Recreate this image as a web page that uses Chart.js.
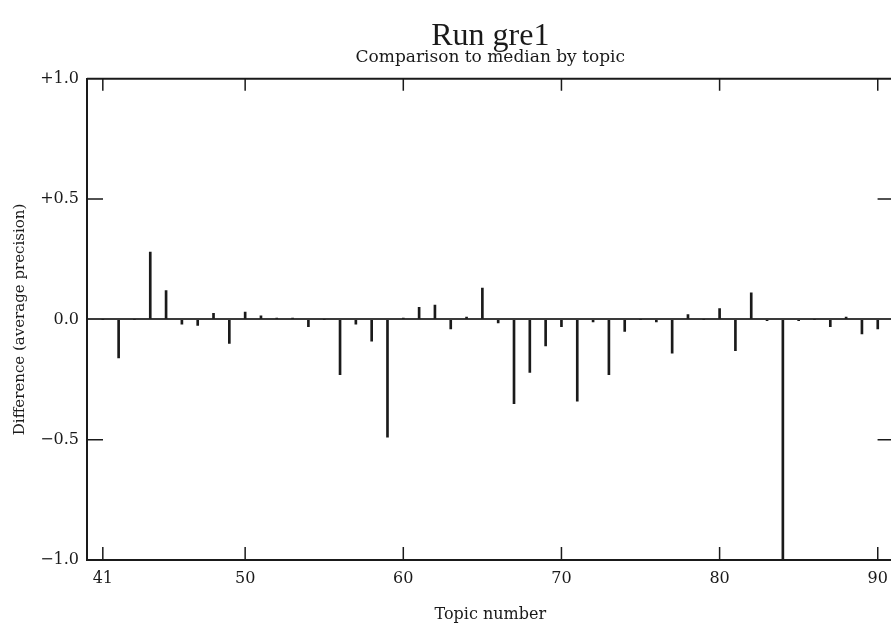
<!DOCTYPE html>
<html lang="en">
<head>
    <meta charset="UTF-8">
    <title>Run gre1</title>
    <script src="https://cdn.jsdelivr.net/npm/chart.js"></script>
    <style>
        body {
            margin: 0;
            background: #fff;
            overflow: hidden;
        }
        #chart {
            display: block;
        }
    </style>
</head>
<body>
    <canvas id="chart" width="897" height="626"></canvas>
    <script>
        // Topic numbers 41..90 and difference from median (average precision)
        const topics = [41, 42, 43, 44, 45, 46, 47, 48, 49, 50,
                        51, 52, 53, 54, 55, 56, 57, 58, 59, 60,
                        61, 62, 63, 64, 65, 66, 67, 68, 69, 70,
                        71, 72, 73, 74, 75, 76, 77, 78, 79, 80,
                        81, 82, 83, 84, 85, 86, 87, 88, 89, 90];
        const differences = [0, -0.16, 0, 0.28, 0.12, -0.02, -0.025, 0.025, -0.10, 0.03,
                             0.015, 0.005, 0.005, -0.03, 0, -0.23, -0.02, -0.09, -0.49, 0.005,
                             0.05, 0.06, -0.04, 0.01, 0.13, -0.015, -0.35, -0.22, -0.11, -0.03,
                             -0.34, -0.01, -0.23, -0.05, 0, -0.01, -0.14, 0.02, 0, 0.045,
                             -0.13, 0.11, -0.005, -1.0, -0.005, 0, -0.03, 0.01, -0.06, -0.04];
        const xTicks = [41, 50, 60, 70, 80, 90];
        const yTicks = [-1, -0.5, 0, 0.5, 1];
        const yTickLabels = ['\u22121.0', '\u22120.5', '0.0', '+0.5', '+1.0'];

        const ink = '#1a1a1a';
        const times = "'Liberation Serif', serif";
        const wide = "'DejaVu Serif', serif";

        // frame on top + little inward tick marks, like the printed plot
        const framePlugin = {
            id: 'frame',
            afterDraw(chart) {
                const { ctx, chartArea: a, scales } = chart;
                ctx.save();
                ctx.strokeStyle = ink;
                ctx.lineWidth = 2;
                ctx.beginPath();
                ctx.moveTo(a.left, a.top);
                ctx.lineTo(a.right, a.top);
                ctx.lineTo(a.right, a.bottom);
                ctx.stroke();

                ctx.lineWidth = 1.5;
                ctx.beginPath();
                xTicks.forEach(t => {
                    const x = scales.x.getPixelForValue(t);
                    ctx.moveTo(x, a.top);
                    ctx.lineTo(x, a.top + 12);
                    ctx.moveTo(x, a.bottom);
                    ctx.lineTo(x, a.bottom - 13);
                });
                [-0.5, 0.5].forEach(v => {
                    const y = scales.y.getPixelForValue(v);
                    ctx.moveTo(a.left, y);
                    ctx.lineTo(a.left + 16, y);
                    ctx.moveTo(a.right, y);
                    ctx.lineTo(a.right - 16, y);
                });
                ctx.stroke();
                ctx.restore();
            }
        };

        const ctx = document.getElementById('chart').getContext('2d');
        new Chart(ctx, {
            type: 'bar',
            data: {
                datasets: [{
                    data: topics.map((t, i) => ({ x: t, y: differences[i] })),
                    backgroundColor: ink,
                    borderWidth: 0,
                    barThickness: 2
                }]
            },
            options: {
                responsive: false,
                animation: false,
                layout: { padding: { left: 0, right: 3, top: 0, bottom: 0 } },
                plugins: {
                    legend: { display: false },
                    tooltip: { enabled: false },
                    title: {
                        display: true,
                        fullSize: false,
                        text: 'Run gre1',
                        color: ink,
                        font: { family: times, size: 32, weight: 'normal', lineHeight: 0.7 },
                        padding: { top: 25, bottom: 0 }
                    },
                    subtitle: {
                        display: true,
                        fullSize: false,
                        text: 'Comparison to median by topic',
                        color: ink,
                        font: { family: wide, size: 17, weight: 'normal' },
                        padding: { top: 0, bottom: 11 }
                    }
                },
                scales: {
                    x: {
                        type: 'linear',
                        offset: false,
                        min: 40,
                        max: 91,
                        afterBuildTicks: scale => {
                            scale.ticks = xTicks.map(v => ({ value: v }));
                        },
                        afterFit: scale => { scale.height = 66; },
                        ticks: {
                            color: ink,
                            font: { family: wide, size: 16 },
                            padding: 9,
                            maxRotation: 0,
                            autoSkip: false
                        },
                        grid: { display: false, drawTicks: false, offset: false },
                        border: { display: true, color: ink, width: 2 },
                        title: {
                            display: true,
                            text: 'Topic number',
                            color: ink,
                            font: { family: wide, size: 16 },
                            padding: { top: 0, bottom: 2 }
                        }
                    },
                    y: {
                        min: -1,
                        max: 1,
                        afterBuildTicks: scale => {
                            scale.ticks = yTicks.map(v => ({ value: v }));
                        },
                        afterFit: scale => { scale.width = 87; },
                        ticks: {
                            color: ink,
                            font: { family: wide, size: 16 },
                            padding: 8,
                            callback: v => yTickLabels[yTicks.indexOf(v)]
                        },
                        grid: {
                            drawTicks: false,
                            lineWidth: 2,
                            color: c => c.tick && c.tick.value === 0 ? '#3a3a3a' : 'rgba(0,0,0,0)'
                        },
                        border: { display: true, color: ink, width: 2 },
                        title: {
                            display: true,
                            text: 'Difference (average precision)',
                            color: ink,
                            font: { family: wide, size: 15 },
                            padding: { top: 11, bottom: 0 }
                        }
                    }
                }
            },
            plugins: [framePlugin]
        });
    </script>
</body>
</html>
